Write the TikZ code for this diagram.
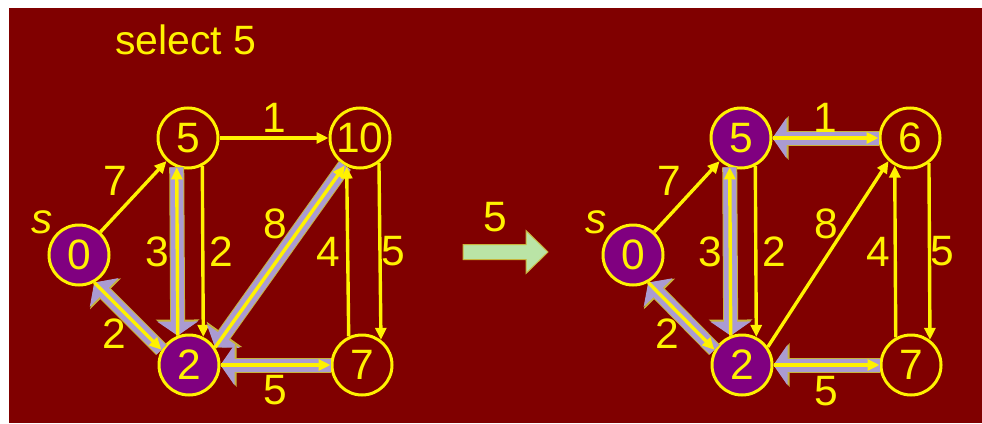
\documentclass[tikz,border=0pt]{standalone}
\usepackage{fontspec}
\setmainfont{Liberation Sans}
\usepackage{xcolor}
\definecolor{slidebg}{RGB}{128, 0, 0}
\definecolor{visited}{RGB}{128, 0, 128}
\definecolor{lavender}{RGB}{170, 155, 210}
\definecolor{rim}{RGB}{200, 180, 60}
\definecolor{stepgreen}{RGB}{186, 228, 166}
\usetikzlibrary{arrows.meta}

\newcommand{\bignum}{\fontsize{42.5}{50}\selectfont}
\newcommand{\titlesize}{\fontsize{41}{49}\selectfont}

\begin{document}
\begin{tikzpicture}[x=1pt, y=-1pt,
  vtx/.style={circle, draw=yellow, line width=3pt, minimum size=60pt, inner sep=0pt, text=yellow, font=\bignum},
  seen/.style={vtx, fill=visited},
  link/.style={draw=yellow, line width=3.4pt, -{Triangle[length=12pt, width=11pt]}},
  pred/.style={draw=lavender, line width=13pt, -{Triangle[length=14pt, width=40pt]},
    preaction={draw=rim, line width=15pt, -{Triangle[length=16pt, width=43pt]}}},
  wt/.style={text=yellow, font=\bignum, inner sep=0pt}
]
\useasboundingbox (0,0) rectangle (982,423);
\fill[slidebg] (9,8) rectangle (982,423);

\node[wt, font=\titlesize, anchor=base west] (title) at (115,54) {select 5};

% before: 0 and 2 settled
\node[seen] (a0) at (79,255) {0};
\node[vtx] (a5) at (188,138) {5};
\node[vtx] (a10) at (360,138) {10};
\node[seen] (a2) at (189,365) {2};
\node[vtx] (a7) at (362,365) {7};
\node[wt, font=\bignum\itshape] (s1) at (42,222) {s};

\draw[link] (a0) -- node[wt, midway, xshift=-18pt, yshift=16pt] {7} (a5);
\draw[link] (a5) -- node[wt, midway, yshift=20pt] {1} (a10);
\draw[pred] (a5.249) -- (a2.111);
\draw[link] (a2.111) -- node[wt, midway, xshift=-20pt] {3} (a5.249);
\draw[link] (a5.-63) -- node[wt, midway, xshift=19pt] {2} (a2.63);
\draw[pred] (a10.241) -- (a2.34);
\draw[link] (a2.34) -- node[wt, midway, xshift=-5pt, yshift=33pt] {8} (a10.241);
\draw[link] (a7.115) -- node[wt, midway, xshift=-19pt] {4} (a10.245);
\draw[link] (a10.-53) -- node[wt, midway, xshift=13pt] {5} (a7.53);
\draw[pred] (a2.151) -- (a0.-61);
\draw[link] (a0.-61) -- node[wt, midway, xshift=-14pt, yshift=-18pt] {2} (a2.151);
\draw[pred] (a7) -- (a2);
\draw[link] (a2) -- node[wt, midway, yshift=-25pt] {5} (a7);

% step arrow
\node[wt] (stepnum) at (495,217) {5};
\draw[draw=rim, line width=1pt, fill=stepgreen] (463,244.5) -- (526,244.5) -- (526,230.5)
  -- (548,252) -- (526,273.5) -- (526,259.5) -- (463,259.5) -- cycle;

% after: 5 settled
\node[seen] (b0) at (633,255) {0};
\node[seen] (b5) at (741,138) {5};
\node[vtx] (b6) at (910,138) {6};
\node[seen] (b2) at (742,365) {2};
\node[vtx] (b7) at (911,365) {7};
\node[wt, font=\bignum\itshape] (s2) at (596,222) {s};

\draw[link] (b0) -- node[wt, midway, xshift=-18pt, yshift=16pt] {7} (b5);
\draw[pred] (b6) -- (b5);
\draw[link] (b5) -- node[wt, midway, yshift=20pt] {1} (b6);
\draw[pred] (b5.249) -- (b2.111);
\draw[link] (b2.111) -- node[wt, midway, xshift=-20pt] {3} (b5.249);
\draw[link] (b5.-63) -- node[wt, midway, xshift=19pt] {2} (b2.63);
\draw[link] (b2.35) -- node[wt, midway, xshift=-2pt, yshift=30pt] {8} (b6.227);
\draw[link] (b7.119) -- node[wt, midway, xshift=-17pt] {4} (b6.241);
\draw[link] (b6.-53) -- node[wt, midway, xshift=13pt] {5} (b7.53);
\draw[pred] (b2.151) -- (b0.-61);
\draw[link] (b0.-61) -- node[wt, midway, xshift=-14pt, yshift=-18pt] {2} (b2.151);
\draw[pred] (b7) -- (b2);
\draw[link] (b2) -- node[wt, midway, yshift=-26pt] {5} (b7);
\end{tikzpicture}
\end{document}
